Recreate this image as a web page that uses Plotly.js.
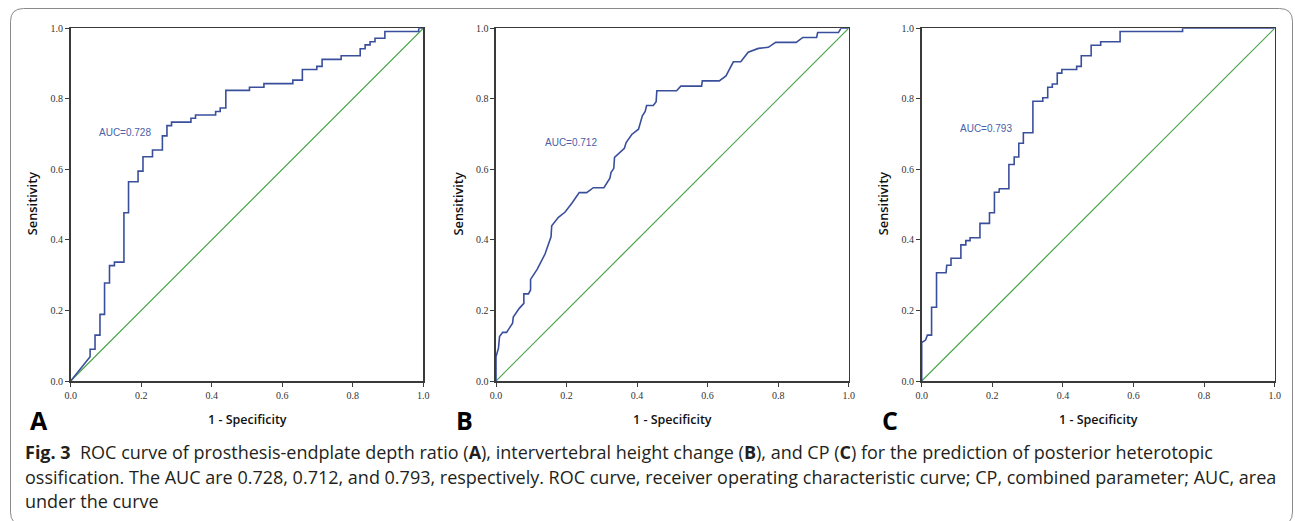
<!DOCTYPE html>
<html>
<head>
<meta charset="utf-8">
<script src="https://cdn.plot.ly/plotly-3.0.1.min.js"></script>
<style>
  html, body { margin: 0; padding: 0; background: #ffffff; }
  #chart { width: 1295px; height: 521px; }
</style>
</head>
<body>
<div id="chart"></div>
<script>
// ---- Data ----
const panelLetters = ["A", "B", "C"];
const aucLabels = ["AUC=0.728", "AUC=0.712", "AUC=0.793"];
const tickVals = [0, 0.2, 0.4, 0.6, 0.8, 1.0];
const tickText = ["0.0", "0.2", "0.4", "0.6", "0.8", "1.0"];
const xTitle = "1 - Specificity";
const yTitle = "Sensitivity";
const refX = [0, 1];
const refY = [0, 1];

// Panel A: prosthesis-endplate depth ratio
const fprA = [0, 0.055, 0.055, 0.069, 0.069, 0.083, 0.083, 0.096, 0.096, 0.110, 0.110, 0.124, 0.124, 0.151, 0.151, 0.164, 0.164, 0.191, 0.191, 0.205, 0.205, 0.232, 0.232, 0.260, 0.260, 0.273, 0.273, 0.286, 0.286, 0.341, 0.341, 0.354, 0.354, 0.411, 0.411, 0.424, 0.424, 0.440, 0.440, 0.507, 0.507, 0.548, 0.548, 0.630, 0.630, 0.657, 0.657, 0.698, 0.698, 0.713, 0.713, 0.767, 0.767, 0.821, 0.821, 0.835, 0.835, 0.849, 0.849, 0.863, 0.863, 0.891, 0.891, 0.987, 0.987, 1.0];
const tprA = [0, 0.069, 0.090, 0.090, 0.130, 0.130, 0.189, 0.189, 0.278, 0.278, 0.327, 0.327, 0.337, 0.337, 0.477, 0.477, 0.565, 0.565, 0.595, 0.595, 0.636, 0.636, 0.655, 0.655, 0.695, 0.695, 0.724, 0.724, 0.734, 0.734, 0.745, 0.745, 0.754, 0.754, 0.764, 0.764, 0.774, 0.774, 0.824, 0.824, 0.833, 0.833, 0.843, 0.843, 0.853, 0.853, 0.883, 0.883, 0.892, 0.892, 0.912, 0.912, 0.922, 0.922, 0.942, 0.942, 0.953, 0.953, 0.962, 0.962, 0.972, 0.972, 0.991, 0.991, 1.0, 1.0];

// Panel B: intervertebral height change
const fprB = [0, 0, 0.007, 0.010, 0.019, 0.030, 0.047, 0.049, 0.066, 0.079, 0.079, 0.092, 0.098, 0.098, 0.117, 0.139, 0.156, 0.158, 0.177, 0.196, 0.215, 0.236, 0.257, 0.276, 0.306, 0.323, 0.326, 0.334, 0.336, 0.364, 0.369, 0.385, 0.404, 0.415, 0.423, 0.427, 0.446, 0.454, 0.456, 0.512, 0.524, 0.583, 0.585, 0.633, 0.652, 0.673, 0.694, 0.715, 0.744, 0.772, 0.793, 0.851, 0.870, 0.909, 0.912, 0.971, 0.978, 1.0];
const tprB = [0, 0.069, 0.093, 0.126, 0.138, 0.138, 0.164, 0.181, 0.206, 0.220, 0.247, 0.247, 0.258, 0.288, 0.317, 0.360, 0.409, 0.440, 0.464, 0.479, 0.504, 0.534, 0.534, 0.548, 0.548, 0.575, 0.591, 0.603, 0.634, 0.660, 0.676, 0.699, 0.714, 0.752, 0.764, 0.781, 0.781, 0.792, 0.823, 0.823, 0.836, 0.836, 0.851, 0.851, 0.865, 0.905, 0.905, 0.932, 0.943, 0.946, 0.960, 0.960, 0.974, 0.974, 0.988, 0.988, 1.0, 1.0];

// Panel C: combined parameter
const fprC = [0, 0, 0.011, 0.016, 0.028, 0.028, 0.042, 0.042, 0.069, 0.071, 0.083, 0.083, 0.111, 0.111, 0.125, 0.125, 0.137, 0.137, 0.165, 0.165, 0.192, 0.192, 0.206, 0.206, 0.219, 0.220, 0.247, 0.247, 0.262, 0.262, 0.275, 0.275, 0.288, 0.288, 0.315, 0.315, 0.343, 0.343, 0.357, 0.357, 0.370, 0.370, 0.384, 0.384, 0.397, 0.397, 0.439, 0.439, 0.452, 0.452, 0.480, 0.480, 0.507, 0.507, 0.562, 0.562, 0.739, 0.739, 1.0];
const tprC = [0, 0.109, 0.116, 0.130, 0.130, 0.209, 0.209, 0.307, 0.307, 0.328, 0.328, 0.348, 0.348, 0.386, 0.386, 0.398, 0.398, 0.406, 0.406, 0.447, 0.447, 0.477, 0.477, 0.535, 0.535, 0.545, 0.545, 0.614, 0.614, 0.635, 0.635, 0.674, 0.674, 0.704, 0.704, 0.793, 0.793, 0.803, 0.803, 0.833, 0.833, 0.842, 0.842, 0.873, 0.873, 0.883, 0.883, 0.892, 0.892, 0.922, 0.922, 0.952, 0.952, 0.962, 0.962, 0.991, 0.991, 1.0, 1.0];

const aucPosX = [0.075, 0.133, 0.102];
const aucPosY = [0.704, 0.676, 0.716];

const captionLines = [
  "<b>Fig. 3</b>&nbsp;&nbsp;ROC curve of prosthesis-endplate depth ratio (<b>A</b>), intervertebral height change (<b>B</b>), and CP (<b>C</b>) for the prediction of posterior heterotopic",
  "ossification. The AUC are 0.728, 0.712, and 0.793, respectively. ROC curve, receiver operating characteristic curve; CP, combined parameter; AUC, area",
  "under the curve"
];

// ---- Layout geometry (pixels on the 1295x521 page) ----
const W = 1295, H = 521;
const plotLeft = [70.7, 496.0, 921.7];
const plotRight = [423.3, 848.7, 1274.7];
const plotTop = 28.3, plotBottom = 381;
const px = v => v / W;
const py = v => 1 - v / H;

const curveColor = "#3a4f9c";
const diagColor = "#4aa34a";
const frameColor = "#3a3a3a";

const fprs = [fprA, fprB, fprC];
const tprs = [tprA, tprB, tprC];

const traces = [];
const layout = {
  width: W, height: H,
  margin: {l: 0, r: 0, t: 0, b: 0, pad: 0},
  paper_bgcolor: "#ffffff",
  plot_bgcolor: "#ffffff",
  showlegend: false,
  annotations: [],
  shapes: []
};

for (let i = 0; i < 3; i++) {
  const sfx = i === 0 ? "" : String(i + 1);
  const xa = "x" + sfx, ya = "y" + sfx;
  traces.push({
    x: refX, y: refY, xaxis: xa, yaxis: ya, type: "scatter", mode: "lines",
    line: {color: diagColor, width: 1.2}, hoverinfo: "skip"
  });
  traces.push({
    x: fprs[i], y: tprs[i], xaxis: xa, yaxis: ya, type: "scatter", mode: "lines",
    line: {color: curveColor, width: 1.6}, name: panelLetters[i]
  });
  const axCommon = {
    range: [0, 1], tickvals: tickVals, ticktext: tickText,
    showgrid: false, zeroline: false, showline: true, mirror: true,
    linecolor: frameColor, linewidth: 1.6,
    ticks: "outside", ticklen: 4, tickwidth: 1, tickcolor: frameColor,
    tickfont: {family: "Liberation Serif, DejaVu Serif, serif", size: 10, color: "#333333"},
    fixedrange: true
  };
  layout["xaxis" + sfx] = Object.assign({}, axCommon, {
    domain: [px(plotLeft[i]), px(plotRight[i])], anchor: ya
  });
  layout["yaxis" + sfx] = Object.assign({}, axCommon, {
    domain: [py(plotBottom), py(plotTop)], anchor: xa
  });

  const cx = (plotLeft[i] + plotRight[i]) / 2;
  // x axis title
  layout.annotations.push({
    xref: "paper", yref: "paper", x: px(cx), y: py(419),
    xanchor: "center", yanchor: "middle", showarrow: false, text: xTitle,
    font: {family: "Open Sans, Noto Sans, sans-serif", size: 12.5, color: "#111111", weight: 600}
  });
  // y axis title
  layout.annotations.push({
    xref: "paper", yref: "paper", x: px(plotLeft[i] - 38.5), y: py(204),
    xanchor: "center", yanchor: "middle", showarrow: false, text: yTitle, textangle: -90,
    font: {family: "Open Sans, Noto Sans, sans-serif", size: 12.8, color: "#111111", weight: 600}
  });
  // panel letter
  layout.annotations.push({
    xref: "paper", yref: "paper", x: px(plotLeft[i] - 31.5), y: py(420),
    xanchor: "center", yanchor: "middle", showarrow: false, text: "<b>" + panelLetters[i] + "</b>",
    font: {family: "Open Sans, Noto Sans, sans-serif", size: 25, color: "#000000"}
  });
  // AUC label
  layout.annotations.push({
    xref: xa, yref: ya, x: aucPosX[i], y: aucPosY[i],
    xanchor: "left", yanchor: "middle", showarrow: false, text: aucLabels[i],
    font: {family: "Liberation Sans, Arial, sans-serif", size: 10, color: "#4a60a8"}
  });
}

// caption
const capY = [452, 476.5, 501];
captionLines.forEach((t, k) => {
  layout.annotations.push({
    xref: "paper", yref: "paper", x: px(23), y: py(capY[k]),
    xanchor: "left", yanchor: "middle", showarrow: false, text: t, align: "left",
    font: {family: "Open Sans, Noto Sans, sans-serif", size: 18, color: "#231f20"}
  });
});

// rounded outer frame
(function () {
  const x0 = px(10.5), x1 = px(1292.5), yT = py(8.5), yB = py(525);
  const rx = 13 / W, ry = 13 / H;
  const path = `M ${x0 + rx},${yT} L ${x1 - rx},${yT} Q ${x1},${yT} ${x1},${yT - ry} ` +
               `L ${x1},${yB + ry} Q ${x1},${yB} ${x1 - rx},${yB} ` +
               `L ${x0 + rx},${yB} Q ${x0},${yB} ${x0},${yB + ry} ` +
               `L ${x0},${yT - ry} Q ${x0},${yT} ${x0 + rx},${yT} Z`;
  layout.shapes.push({
    type: "path", xref: "paper", yref: "paper", path: path,
    line: {color: "#8a8a8a", width: 1}, fillcolor: "rgba(0,0,0,0)", layer: "below"
  });
})();

Plotly.newPlot("chart", traces, layout, {displayModeBar: false, staticPlot: true});
</script>
</body>
</html>
